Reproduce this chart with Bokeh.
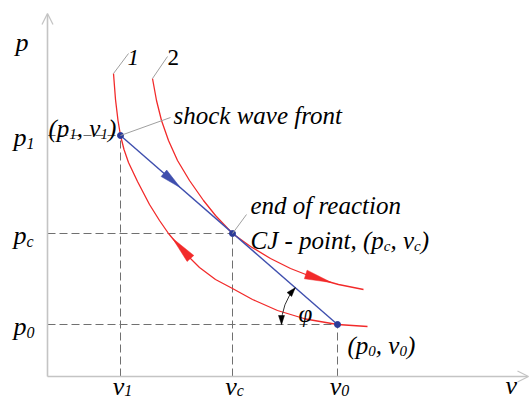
import numpy as np
from bokeh.plotting import figure
from bokeh.models import Range1d, Arrow, OpenHead
from bokeh.core.properties import value
from bokeh.embed import file_html
from bokeh.resources import INLINE

# ---------------- data ----------------
v_ticks = [0.73, 1.85, 2.90]          # v1, vc, v0
p_ticks = [2.41, 1.43, 0.52]          # p1, pc, p0
tick_subs = ["1", "c", "0"]

curve1_v = [0.66, 0.68, 0.705, 0.73, 0.765, 0.81, 0.90, 1.02, 1.12, 1.21,
            1.36, 1.52, 1.68, 1.85, 2.05, 2.30, 2.58, 2.90, 3.20]
curve1_p = [3.03, 2.77, 2.56, 2.41, 2.27, 2.14, 1.95, 1.72, 1.56, 1.43,
            1.25, 1.09, 0.97, 0.88, 0.77, 0.66, 0.575, 0.52, 0.50]

curve2_v = [1.05, 1.09, 1.14, 1.21, 1.30, 1.42, 1.56, 1.68, 1.85, 2.03,
            2.23, 2.43, 2.66, 2.91, 3.16]
curve2_p = [2.98, 2.76, 2.56, 2.36, 2.16, 1.96, 1.76, 1.61, 1.43, 1.30,
            1.18, 1.08, 0.99, 0.92, 0.87]

curve_labels = ["1", "2"]
annot_shock = "shock wave front"
annot_end = "end of reaction"
annot_cj = "CJ - point, (p"

RED = "#f22a2a"
BLUE = "#3f4fae"
DOT = "#2b3a98"
GREY_AX = "#c4c4c4"
GREY_D = "#707070"
GREY_L = "#a0a0a0"
FONT = "'Liberation Serif', 'Times New Roman', serif"

p = figure(width=530, height=401, x_range=Range1d(-0.47, 4.83),
           y_range=Range1d(-0.25, 3.76), output_backend="svg",
           toolbar_location=None, x_axis_type=None, y_axis_type=None,
           min_border=0)
p.outline_line_color = None
p.background_fill_color = "white"
p.border_fill_color = "white"

# axes arrows
p.add_layout(Arrow(end=OpenHead(size=11, line_color=GREY_AX, line_width=1.3),
                   x_start=0, y_start=0, x_end=0, y_end=3.63,
                   line_color=GREY_AX, line_width=1.6))
p.add_layout(Arrow(end=OpenHead(size=11, line_color=GREY_AX, line_width=1.3),
                   x_start=0, y_start=0, x_end=4.81, y_end=0,
                   line_color=GREY_AX, line_width=1.6))

# dashed guide lines
vt = np.array(v_ticks); pt = np.array(p_ticks)
p.segment(x0=np.zeros(3), y0=pt, x1=vt, y1=pt, line_color=GREY_D,
          line_dash="8 4", line_width=1)
p.segment(x0=vt, y0=np.zeros(3), x1=vt, y1=pt, line_color=GREY_D,
          line_dash="8 4", line_width=1)

# curves
p.line(curve1_v, curve1_p, line_color=RED, line_width=1.3)
p.line(curve2_v, curve2_p, line_color=RED, line_width=1.3)
p.line([v_ticks[0], v_ticks[2]], [p_ticks[0], p_ticks[2]], line_color=BLUE,
       line_width=1.4)


def head(xs, ys, x_tip, length, width, backward=False):
    xs = np.asarray(xs, float); ys = np.asarray(ys, float)
    seg = np.hypot(np.diff(xs), np.diff(ys))
    s = np.concatenate([[0], np.cumsum(seg)])
    s_tip = np.interp(x_tip, xs, s)
    s_base = s_tip + length if backward else s_tip - length
    tx, ty = np.interp(s_tip, s, xs), np.interp(s_tip, s, ys)
    bx, by = np.interp(s_base, s, xs), np.interp(s_base, s, ys)
    u = np.array([tx - bx, ty - by]); u /= np.hypot(*u)
    n = np.array([-u[1], u[0]])
    base = np.array([tx, ty]) - length * u
    c1 = base + n * width / 2; c2 = base - n * width / 2
    return [tx, c1[0], c2[0]], [ty, c1[1], c2[1]]


hx, hy = head([v_ticks[0], v_ticks[2]], [p_ticks[0], p_ticks[2]], 1.33, 0.22, 0.085)
p.patch(hx, hy, fill_color=BLUE, line_color=BLUE, line_width=0.5)
hx, hy = head(curve1_v, curve1_p, 1.25, 0.27, 0.09, backward=True)
p.patch(hx, hy, fill_color=RED, line_color=RED, line_width=0.5)
hx, hy = head(curve2_v, curve2_p, 2.84, 0.27, 0.09)
p.patch(hx, hy, fill_color=RED, line_color=RED, line_width=0.5)

# phi arc
cx, cy = v_ticks[2], p_ticks[2]
theta_b = np.arctan2(p_ticks[0] - p_ticks[2], v_ticks[0] - v_ticks[2])
R = 0.56
p.arc(x=[cx], y=[cy], radius=R, start_angle=theta_b, end_angle=np.pi,
      line_color="#333333", line_width=1)
for th, u in [(theta_b, (np.sin(theta_b), -np.cos(theta_b))), (np.pi, (0.0, -1.0))]:
    tx, ty = cx + R * np.cos(th), cy + R * np.sin(th)
    u = np.array(u); n = np.array([-u[1], u[0]])
    b = np.array([tx, ty]) - 0.09 * u
    c1 = b + n * 0.03; c2 = b - n * 0.03
    p.patch([tx, c1[0], c2[0]], [ty, c1[1], c2[1]], fill_color="black",
            line_color="black", line_width=0.5)

# points
p.scatter(v_ticks, p_ticks, size=6, color=DOT)

# leader lines
p.segment(x0=[curve1_v[0], curve2_v[0], v_ticks[0], v_ticks[1]],
          y0=[curve1_p[0], curve2_p[0], p_ticks[0], p_ticks[1]],
          x1=[curve1_v[0] + 0.15, curve2_v[0] + 0.15, 1.23, 1.99],
          y1=[curve1_p[0] + 0.20, curve2_p[0] + 0.22, 2.59, 1.62],
          line_color=GREY_L, line_width=1)

# ---------- texts ----------
W = {' ': 250, '(': 333, ')': 333, ',': 250, '-': 333, '0': 500, '1': 500,
     '2': 500, 'C': 667, 'J': 444, 'a': 500, 'c': 444, 'd': 500, 'e': 444,
     'f': 278, 'h': 500, 'i': 278, 'k': 444, 'n': 500, 'o': 500, 'p': 500,
     'r': 389, 's': 389, 't': 278, 'v': 444, 'w': 667}


def tw(s, size):
    return sum(W.get(ch, 500) for ch in s) * size / 1000 / 100


def txt(x, y, s, size, style="italic", align="left"):
    p.text([x], [y], text=[s], text_font=value(FONT), text_font_style=style,
           text_font_size=f"{size}px", text_baseline="alphabetic",
           text_align=align, text_color="black")


def rich(x, y, parts, size, sub_size, align="left", drop=0.055):
    widths = [tw(t, sub_size if s else size) for t, s in parts]
    total = sum(widths)
    cur = x - (total / 2 if align == "center" else total if align == "right" else 0)
    for (t, s), w in zip(parts, widths):
        txt(cur, y - (drop if s else 0), t, sub_size if s else size)
        cur += w


# axis tick labels
for pv, sub in zip(p_ticks, tick_subs):
    rich(-0.34, pv - 0.02, [("p", False), (sub, True)], 26, 16)
for vv, sub in zip(v_ticks, tick_subs):
    rich(vv + 0.02, -0.10, [("v", False), (sub, True)], 26, 16, align="center",
         drop=0.04)

# axis names
txt(-0.32, 3.34, "p", 26)
txt(4.58, -0.09, "v", 26)

# curve numbers
txt(curve1_v[0] + 0.14, 3.19, curve_labels[0], 23)
txt(curve2_v[0] + 0.15, 3.19, curve_labels[1], 23, style="normal")

# annotations
txt(1.26, 2.61, annot_shock, 25)
txt(2.03, 1.71, annot_end, 25)
rich(2.03, 1.36, [(annot_cj, False), ("c", True), (", v", False), ("c", True),
                  (")", False)], 25, 15)
rich(0.01, 2.48, [("(p", False), ("1", True), (", v", False), ("1", True),
                  (")", False)], 25, 15)
rich(3.00, 0.31, [("(p", False), ("0", True), (", v", False), ("0", True),
                  (")", False)], 25, 15)
txt(2.51, 0.63, "φ", 25)

open("out.html", "w").write(file_html(p, INLINE))
